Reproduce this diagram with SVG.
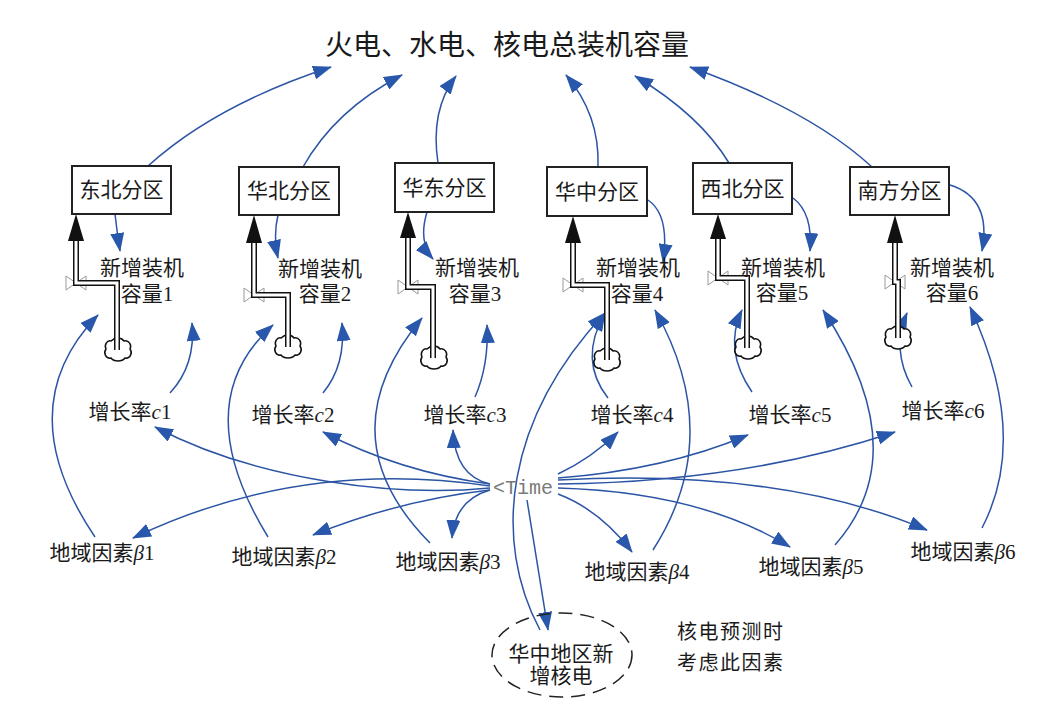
<svg xmlns="http://www.w3.org/2000/svg" width="1040" height="714" viewBox="0 0 1040 714">
<style>
.t{font-family:"Liberation Serif","Noto Sans CJK SC",serif;fill:#1a1a1a;}
.box{fill:#fff;stroke:#222;stroke-width:2;}
.lk{fill:none;stroke:#2b55a4;stroke-width:1.5;marker-end:url(#ah);}
.po{fill:none;stroke:#111;stroke-width:6;stroke-linejoin:miter;}
.pi{fill:none;stroke:#fff;stroke-width:3;stroke-linejoin:miter;}
.it{font-style:italic;}
</style>
<defs>
<marker id="ah" markerUnits="userSpaceOnUse" markerWidth="20" markerHeight="14" refX="18" refY="7" orient="auto">
<path d="M0,0 L19,7 L0,14 Z" fill="#2857ab"/>
</marker>
<path id="cloud" d="M-7,-9 C-3,-13 3,-13 6,-9 C11,-10 14,-5 12,-1 C15,3 12,9 7,8 C4,12 -4,12 -7,8 C-12,9 -15,3 -12,-1 C-14,-5 -11,-10 -7,-9 Z" fill="#fff" stroke="#111" stroke-width="1.5"/>
<path id="valve" d="M-10,-7 L10,7 L10,-7 L-10,7 Z" fill="#fff" stroke="#999" stroke-width="1"/>
</defs>
<rect width="1040" height="714" fill="#fff"/>

<g id="title"><text class="t" x="507" y="55" font-size="28" text-anchor="middle">火电、水电、核电总装机容量</text></g>

<g id="connectors">
<path class="lk" d="M148,166 Q215,105 331,67"/>
<path class="lk" d="M303,167 Q335,110 402,75"/>
<path class="lk" d="M438,163 Q430,110 456,76"/>
<path class="lk" d="M598,167 Q600,115 566,75"/>
<path class="lk" d="M729,163 Q700,115 635,76"/>
<path class="lk" d="M872,167 Q810,110 690,67"/>

<path class="lk" d="M115,214 Q117,232 120,251"/>
<path class="lk" d="M278,215 Q273,236 278,258"/>
<path class="lk" d="M427,212 Q418,242 433,259"/>
<path class="lk" d="M648,200 Q670,215 663,262"/>
<path class="lk" d="M793,198 Q813,213 810,251"/>
<path class="lk" d="M950,185 Q992,198 982,251"/>

<path class="lk" d="M170,393 Q196,365 192,323"/>
<path class="lk" d="M323,393 Q346,365 342,323"/>
<path class="lk" d="M475,397 Q489,365 487,325"/>
<path class="lk" d="M608,398 Q578,360 605,313"/>
<path class="lk" d="M752,392 Q723,350 742,310"/>
<path class="lk" d="M912,387 Q891,350 907,313"/>

<path class="lk" d="M95,537 Q8,408 98,315"/>
<path class="lk" d="M268,537 Q186,403 273,325"/>
<path class="lk" d="M430,543 Q324,436 422,318"/>
<path class="lk" d="M653,550 Q726,436 655,310"/>
<path class="lk" d="M835,545 Q917,452 823,310"/>
<path class="lk" d="M982,528 Q1030,436 970,307"/>

<path class="lk" d="M490,488 C400,497 260,482 155,427"/>
<path class="lk" d="M490,484 Q400,472 323,432"/>
<path class="lk" d="M490,484 Q455,476 453,430"/>
<path class="lk" d="M558,474 Q592,458 618,432"/>
<path class="lk" d="M558,478 Q665,470 748,435"/>
<path class="lk" d="M558,484 Q745,482 895,432"/>
<path class="lk" d="M490,486 Q300,458 133,538"/>
<path class="lk" d="M490,490 Q400,500 313,535"/>
<path class="lk" d="M490,490 Q455,500 452,538"/>
<path class="lk" d="M558,494 Q600,510 632,552"/>
<path class="lk" d="M558,488 Q700,492 790,547"/>
<path class="lk" d="M558,480 Q780,468 927,530"/>
<path class="lk" d="M527,500 L548,630"/>
<path class="lk" d="M540,630 C492,540 505,420 605,313"/>
</g>

<g id="time"><text x="523" y="494" font-family="Liberation Mono, monospace" font-size="20" fill="#7a7a7a" text-anchor="middle">&lt;Time</text></g>

<g id="box1"><rect class="box" x="72" y="166" width="99" height="48"/><text class="t" x="121.5" y="197" font-size="21" text-anchor="middle">东北分区</text></g>
<g id="box2"><rect class="box" x="239" y="167" width="100" height="48"/><text class="t" x="289" y="198" font-size="21" text-anchor="middle">华北分区</text></g>
<g id="box3"><rect class="box" x="395" y="163" width="99" height="49"/><text class="t" x="444.5" y="195" font-size="21" text-anchor="middle">华东分区</text></g>
<g id="box4"><rect class="box" x="547" y="167" width="100" height="49"/><text class="t" x="597" y="199" font-size="21" text-anchor="middle">华中分区</text></g>
<g id="box5"><rect class="box" x="693" y="163" width="99" height="51"/><text class="t" x="742.5" y="196" font-size="21" text-anchor="middle">西北分区</text></g>
<g id="box6"><rect class="box" x="850" y="167" width="99" height="48"/><text class="t" x="899.5" y="198" font-size="21" text-anchor="middle">南方分区</text></g>

<g id="flow1">
<use href="#cloud" x="118" y="350"/><use href="#valve" x="76" y="283"/>
<path class="po" d="M76,240 L76,283 L117,283 L117,350"/><path class="pi" d="M76,240 L76,283 L117,283 L117,350"/>
<polygon points="76,214 68,241 84,241" fill="#111"/>
<text class="t" font-size="21" text-anchor="middle"><tspan x="142" y="275">新增装机</tspan><tspan x="147" y="301">容量1</tspan></text>
</g>
<g id="flow2">
<use href="#cloud" x="288" y="347"/><use href="#valve" x="254" y="295"/>
<path class="po" d="M254,242 L254,295 L288,295 L288,347"/><path class="pi" d="M254,242 L254,295 L288,295 L288,347"/>
<polygon points="254,215 246,243 262,243" fill="#111"/>
<text class="t" font-size="21" text-anchor="middle"><tspan x="320" y="276">新增装机</tspan><tspan x="325" y="301">容量2</tspan></text>
</g>
<g id="flow3">
<use href="#cloud" x="434" y="358"/><use href="#valve" x="408" y="287"/>
<path class="po" d="M408,237 L408,287 L433,287 L433,358"/><path class="pi" d="M408,237 L408,287 L433,287 L433,358"/>
<polygon points="408,212 400,238 416,238" fill="#111"/>
<text class="t" font-size="21" text-anchor="middle"><tspan x="477" y="275">新增装机</tspan><tspan x="475" y="301">容量3</tspan></text>
</g>
<g id="flow4">
<use href="#cloud" x="607" y="360"/><use href="#valve" x="573" y="285"/>
<path class="po" d="M573,242 L573,285 L607,285 L607,360"/><path class="pi" d="M573,242 L573,285 L607,285 L607,360"/>
<polygon points="573,216 565,243 581,243" fill="#111"/>
<text class="t" font-size="21" text-anchor="middle"><tspan x="638" y="275">新增装机</tspan><tspan x="637" y="301">容量4</tspan></text>
</g>
<g id="flow5">
<use href="#cloud" x="748" y="348"/><use href="#valve" x="718" y="278"/>
<path class="po" d="M718,238 L718,278 L747,278 L747,348"/><path class="pi" d="M718,238 L718,278 L747,278 L747,348"/>
<polygon points="718,214 710,239 726,239" fill="#111"/>
<text class="t" font-size="21" text-anchor="middle"><tspan x="783" y="275">新增装机</tspan><tspan x="782" y="300">容量5</tspan></text>
</g>
<g id="flow6">
<use href="#cloud" x="898" y="338"/><use href="#valve" x="895" y="282"/>
<path class="po" d="M895,242 L895,282 L898,282 L898,338"/><path class="pi" d="M895,242 L895,282 L898,282 L898,338"/>
<polygon points="895,215 887,243 903,243" fill="#111"/>
<text class="t" font-size="21" text-anchor="middle"><tspan x="952" y="275">新增装机</tspan><tspan x="952" y="300">容量6</tspan></text>
</g>

<g id="rate1"><text class="t" x="130" y="419" font-size="21" text-anchor="middle">增长率<tspan class="it">c</tspan>1</text></g>
<g id="rate2"><text class="t" x="293" y="422" font-size="21" text-anchor="middle">增长率<tspan class="it">c</tspan>2</text></g>
<g id="rate3"><text class="t" x="465" y="422" font-size="21" text-anchor="middle">增长率<tspan class="it">c</tspan>3</text></g>
<g id="rate4"><text class="t" x="632" y="422" font-size="21" text-anchor="middle">增长率<tspan class="it">c</tspan>4</text></g>
<g id="rate5"><text class="t" x="790" y="422" font-size="21" text-anchor="middle">增长率<tspan class="it">c</tspan>5</text></g>
<g id="rate6"><text class="t" x="943" y="418" font-size="21" text-anchor="middle">增长率<tspan class="it">c</tspan>6</text></g>

<g id="beta1"><text class="t" x="102" y="560" font-size="21" text-anchor="middle">地域因素<tspan class="it">β</tspan>1</text></g>
<g id="beta2"><text class="t" x="284" y="564" font-size="21" text-anchor="middle">地域因素<tspan class="it">β</tspan>2</text></g>
<g id="beta3"><text class="t" x="448" y="569" font-size="21" text-anchor="middle">地域因素<tspan class="it">β</tspan>3</text></g>
<g id="beta4"><text class="t" x="637" y="579" font-size="21" text-anchor="middle">地域因素<tspan class="it">β</tspan>4</text></g>
<g id="beta5"><text class="t" x="811" y="574" font-size="21" text-anchor="middle">地域因素<tspan class="it">β</tspan>5</text></g>
<g id="beta6"><text class="t" x="963" y="559" font-size="21" text-anchor="middle">地域因素<tspan class="it">β</tspan>6</text></g>

<g id="nuclear">
<ellipse cx="562" cy="655" rx="70" ry="42" fill="none" stroke="#222" stroke-width="1.5" stroke-dasharray="14,8"/>
<text class="t" font-size="21" text-anchor="middle"><tspan x="561" y="661">华中地区新</tspan><tspan x="561" y="683">增核电</tspan></text>
</g>
<g id="note"><text class="t" font-size="20" letter-spacing="1.5"><tspan x="677" y="639">核电预测时</tspan><tspan x="677" y="670">考虑此因素</tspan></text></g>
</svg>
